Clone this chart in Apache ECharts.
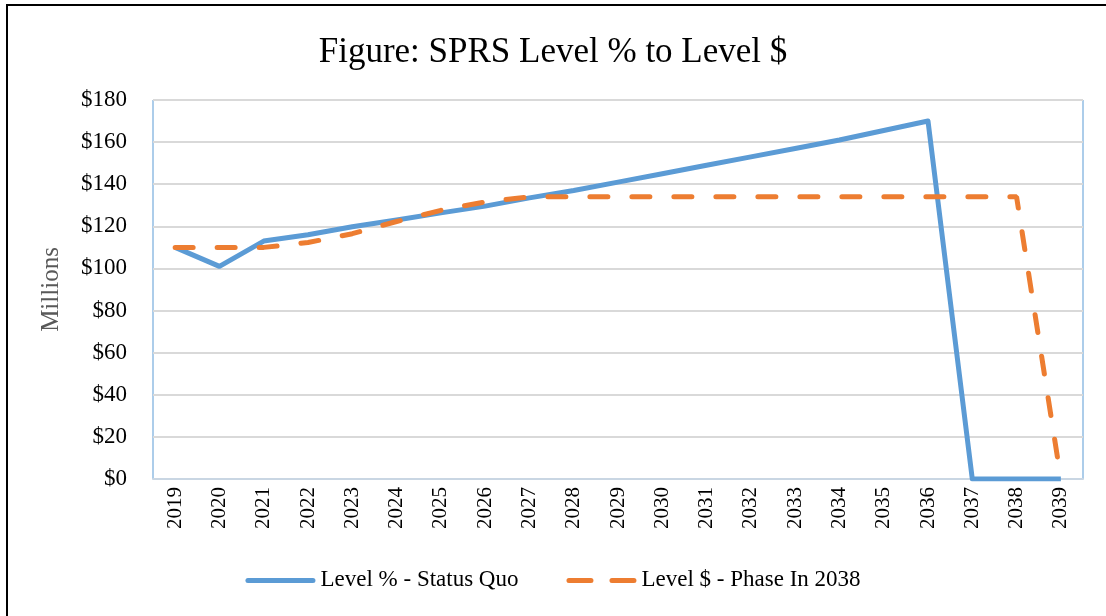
<!DOCTYPE html>
<html>
  <head>
    <title>SPRS Level</title>
    <script src="https://cdn.jsdelivr.net/npm/echarts@6/dist/echarts.min.js"></script>
  </head>
  <body style="margin:0">
    <div id="main" style="width: 1106px; height: 616px"></div>
    <script>
      var years = ["2019", "2020", "2021", "2022", "2023", "2024", "2025", "2026", "2027", "2028", "2029",
        "2030", "2031", "2032", "2033", "2034", "2035", "2036", "2037", "2038", "2039"];
      var statusQuo = [110, 101, 113, 116, 119.8, 123, 126.4, 129.6, 133.5, 137, 141,
        145, 149, 153, 157, 161, 165.5, 170, 0, 0, 0];
      var phaseIn = [110, 110, 110, 112.3, 116.5, 122.3, 127.6, 131.6, 134, 134, 134,
        134, 134, 134, 134, 134, 134, 134, 134, 134, 0];

      var font = "'Liberation Serif', 'Times New Roman', serif";
      var myChart = echarts.init(document.getElementById("main"));
      var option = {
        backgroundColor: "#fff",
        animation: false,
        textStyle: { fontFamily: font },
        graphic: [
          {
            type: "rect",
            shape: { x: 7, y: 5, width: 1110, height: 620 },
            style: { fill: null, stroke: "#000", lineWidth: 2 },
            silent: true,
          },
        ],
        title: {
          text: "Figure: SPRS Level % to Level $",
          left: "center",
          top: 21,
          textStyle: { fontFamily: font, fontSize: 35, fontWeight: "normal", color: "#000" },
        },
        grid: {
          left: 153,
          right: 23,
          top: 100,
          bottom: 137,
          show: true,
          borderColor: "#5B9BD5",
          borderWidth: 1,
        },
        legend: {
          bottom: 13,
          left: "center",
          itemWidth: 70,
          itemHeight: 5,
          itemGap: 48,
          textStyle: { fontFamily: font, fontSize: 23, color: "#000" },
          data: [
            { name: "Level % - Status Quo", icon: "path://M2.5,0 L67.5,0 A2.5,2.5 0 0 1 67.5,5 L2.5,5 A2.5,2.5 0 0 1 2.5,0 Z" },
            {
              name: "Level $ - Phase In 2038",
              icon: "path://M2.5,0 L24.5,0 A2.5,2.5 0 0 1 24.5,5 L2.5,5 A2.5,2.5 0 0 1 2.5,0 Z " +
                "M45.5,0 L67.5,0 A2.5,2.5 0 0 1 67.5,5 L45.5,5 A2.5,2.5 0 0 1 45.5,0 Z",
            },
          ],
        },
        xAxis: {
          type: "category",
          data: years,
          boundaryGap: true,
          axisLine: { lineStyle: { color: "#C9D6E3", width: 2 } },
          axisTick: { show: false },
          axisLabel: {
            rotate: 90,
            fontSize: 21,
            color: "#000",
            fontFamily: font,
            margin: 8,
            interval: 0,
          },
        },
        yAxis: {
          type: "value",
          min: 0,
          max: 180,
          interval: 20,
          name: "Millions",
          nameLocation: "middle",
          nameGap: 82,
          nameTextStyle: { fontFamily: font, fontSize: 25, color: "#595959" },
          axisLine: { show: false },
          axisTick: { show: false },
          splitLine: { lineStyle: { color: "#D9D9D9", width: 2 } },
          axisLabel: {
            fontSize: 23,
            color: "#000",
            fontFamily: font,
            margin: 26,
            formatter: function (v) { return "$" + v; },
          },
        },
        series: [
          {
            name: "Level % - Status Quo",
            type: "line",
            data: statusQuo,
            symbol: "none",
            color: "#5B9BD5",
            lineStyle: { width: 5, color: "#5B9BD5", join: "round" },
            z: 2,
          },
          {
            name: "Level $ - Phase In 2038",
            type: "line",
            data: phaseIn,
            symbol: "none",
            color: "#ED7D31",
            lineStyle: { width: 5, color: "#ED7D31", type: [18, 24], cap: "round" },
            z: 3,
          },
        ],
      };
      myChart.setOption(option);
    </script>
  </body>
</html>
